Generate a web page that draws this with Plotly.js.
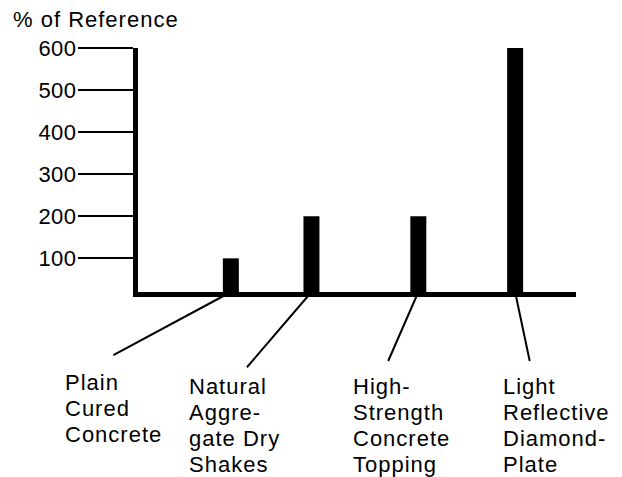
<!DOCTYPE html>
<html>
<head>
<meta charset="utf-8">
<script src="https://cdn.plot.ly/plotly-3.0.1.min.js"></script>
<style>
html,body{margin:0;padding:0;background:#fff;}
#chart{width:622px;height:477px;}
#chart text.annotation-text, #chart text.gtitle { letter-spacing: 1px; }
#chart g.ytick text { letter-spacing: 0.5px; }
</style>
</head>
<body>
<div id="chart"></div>
<script>
// ---- data ----
const categories = ["Plain\nCured\nConcrete", "Natural\nAggre-\ngate Dry\nShakes", "High-\nStrength\nConcrete\nTopping", "Light\nReflective\nDiamond-\nPlate"];
const values = [100, 200, 200, 600];
const yTickValues = [100, 200, 300, 400, 500, 600];
const yTickLabels = ["100", "200", "300", "400", "500", "600"];
const axisTitle = "% of Reference";

// ---- layout constants (positions / styling, not data) ----
const slotX = [2.12, 3.96, 6.40, 8.61];          // bar slots along the x axis
const yRange = [20, 600];
const leaderAx = [-119, -66, -31, 15];            // leader line tail offsets (px)
const leaderAy = [64, 77, 71, 71];
const labelXShift = [-168, -124, -67, -14];       // label box left offset from bar centre (px)
const labelYShift = [-76, -80, -80, -80];
const FONT = "Liberation Sans, Arial, sans-serif";

const trace = {
  type: "bar",
  x: slotX,
  y: values,
  width: 0.365,
  marker: {color: "#000", line: {width: 0}},
  hoverinfo: "skip"
};

const annotations = [];
categories.forEach((c, i) => {
  annotations.push({
    xref: "x", yref: "y", x: slotX[i], y: yRange[0],
    text: " ", font: {size: 1},
    showarrow: true, arrowhead: 0, arrowwidth: 2, arrowcolor: "#000",
    axref: "pixel", ayref: "pixel", ax: leaderAx[i], ay: leaderAy[i]
  });
  annotations.push({
    xref: "x", yref: "paper", x: slotX[i], y: 0,
    xanchor: "left", yanchor: "top", align: "left",
    xshift: labelXShift[i], yshift: labelYShift[i],
    text: c.split("\n").map(s => '<span style="font-size:22px">' + s + '</span>').join("<br>"),
    showarrow: false,
    font: {family: FONT, size: 20.1, color: "#000"}
  });
});

const layout = {
  width: 622, height: 477,
  margin: {l: 138, r: 46, t: 48, b: 185, pad: 0},
  paper_bgcolor: "#fff", plot_bgcolor: "#fff",
  showlegend: false,
  title: {
    text: axisTitle,
    font: {family: FONT, size: 22, color: "#000"},
    xref: "container", x: 13 / 622, xanchor: "left",
    yref: "container", y: 1 - 19.5 / 477, yanchor: "middle"
  },
  xaxis: {
    range: [0, 10], showticklabels: false, ticks: "", showgrid: false, zeroline: false,
    showline: true, linewidth: 5, linecolor: "#000", fixedrange: true
  },
  yaxis: {
    range: yRange, tickmode: "array", tickvals: yTickValues, ticktext: yTickLabels,
    ticks: "outside", ticklen: 55, tickwidth: 2, tickcolor: "#000",
    ticklabelstandoff: -3,
    showgrid: false, zeroline: false,
    showline: true, linewidth: 5, linecolor: "#000",
    tickfont: {family: FONT, size: 22, color: "#000"}, fixedrange: true
  },
  annotations: annotations
};

Plotly.newPlot("chart", [trace], layout, {staticPlot: true, displayModeBar: false});
</script>
</body>
</html>
